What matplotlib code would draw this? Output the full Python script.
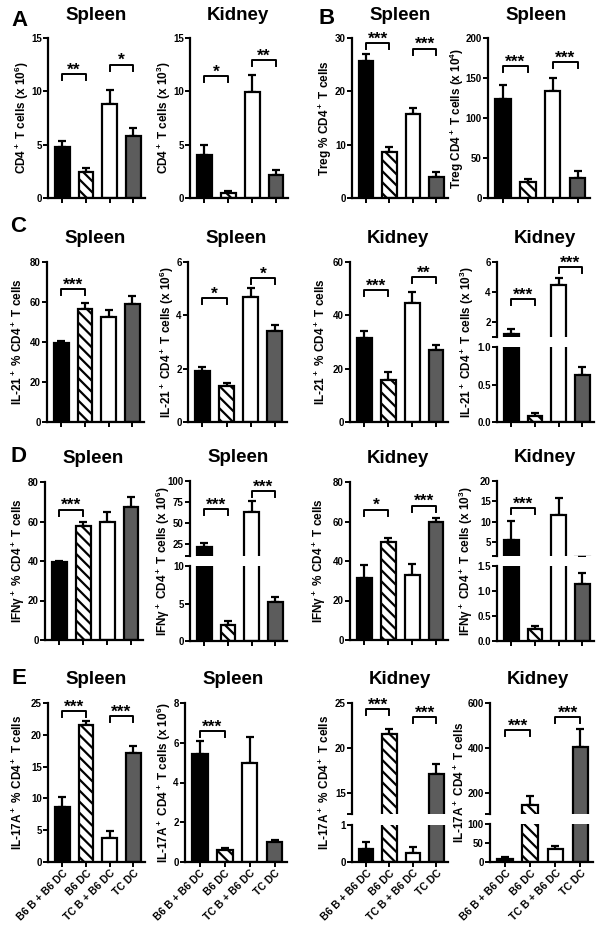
import numpy as np
import matplotlib.pyplot as plt

plt.rcParams['font.family'] = ['Liberation Sans', 'DejaVu Sans']
plt.rcParams['font.weight'] = 'bold'
plt.rcParams['mathtext.fontset'] = 'custom'
plt.rcParams['mathtext.rm'] = 'Liberation Sans:bold'
plt.rcParams['mathtext.bf'] = 'Liberation Sans:bold'
plt.rcParams['mathtext.default'] = 'bf'
plt.rcParams['hatch.linewidth'] = 1.6

W, H = 604, 934

groups = ['B6 B + B6 DC', 'B6 DC', 'TC B + B6 DC', 'TC DC']
face = ['black', 'white', 'white', '#5c5c5c']
hatch = [None, '\\\\\\', None, None]

# means and SEM
a1_mean = [4.8, 2.4, 8.8, 5.8];     a1_err = [0.55, 0.4, 1.3, 0.75]
a2_mean = [4.0, 0.45, 9.9, 2.2];    a2_err = [1.0, 0.2, 1.6, 0.4]
b1_mean = [25.7, 8.6, 15.8, 3.9];   b1_err = [1.3, 1.0, 1.1, 1.0]
b2_mean = [124, 20, 134, 25];       b2_err = [17, 4, 16, 9]
c1_mean = [39.5, 56.5, 52.5, 59];   c1_err = [1.2, 3.0, 3.5, 4.0]
c2_mean = [1.9, 1.35, 4.7, 3.42];   c2_err = [0.16, 0.11, 0.32, 0.22]
c3_mean = [31.5, 15.7, 44.6, 27.0]; c3_err = [2.5, 3.1, 4.1, 1.9]
c4_mean = [1.2, 0.08, 4.47, 0.63];  c4_err = [0.33, 0.04, 0.45, 0.1]
d1_mean = [39.3, 57.7, 59.7, 67.3]; d1_err = [0.8, 2.0, 5.1, 5.0]
d2_mean = [21, 2.2, 63, 5.2];       d2_err = [5, 0.45, 13, 0.65]
d3_mean = [31.4, 49.6, 33.0, 59.7]; d3_err = [6.6, 2.0, 5.5, 2.1]
d4_mean = [5.5, 0.24, 11.7, 1.15];  d4_err = [4.7, 0.06, 4.1, 0.22]
e1_mean = [8.7, 21.6, 3.7, 17.1];   e1_err = [1.5, 0.5, 1.1, 1.1]
e2_mean = [5.45, 0.58, 5.0, 1.0];   e2_err = [0.65, 0.12, 1.3, 0.1]
e3_mean = [0.35, 21.6, 0.25, 17.1]; e3_err = [0.18, 0.5, 0.15, 1.1]
e4_mean = [8, 145, 35, 405];        e4_err = [4, 40, 6, 80]

# significance: (stars, group i, group j, level)
a1_sig = [('**', 0, 1, 11.6), ('*', 2, 3, 12.5)]
a2_sig = [('*', 0, 1, 11.4), ('**', 2, 3, 12.9)]
b1_sig = [('***', 0, 1, 29.1), ('***', 2, 3, 28.0)]
b2_sig = [('***', 0, 1, 165), ('***', 2, 3, 170)]
c1_sig = [('***', 0, 1, 66.5)]
c2_sig = [('*', 0, 1, 4.65), ('*', 2, 3, 5.4)]
c3_sig = [('***', 0, 1, 49.5), ('**', 2, 3, 54.4)]
c4_sig = [('***', 0, 1, 3.53), ('***', 2, 3, 5.67)]
d1_sig = [('***', 0, 1, 66)]
d2_sig = [('***', 0, 1, 66), ('***', 2, 3, 88)]
d3_sig = [('*', 0, 1, 66), ('***', 2, 3, 68)]
d4_sig = [('***', 0, 1, 13.3)]
e1_sig = [('***', 0, 1, 23.7), ('***', 2, 3, 22.9)]
e2_sig = [('***', 0, 1, 6.6)]
e3_sig = [('***', 0, 1, 24.3), ('***', 2, 3, 23.4)]
e4_sig = [('***', 0, 1, 480), ('***', 2, 3, 538)]

lab_pct21 = 'IL-21$^+$ % CD4$^+$ T cells'
lab_ifn = 'IFN\u03b3$^+$ % CD4$^+$ T cells'
lab_17 = 'IL-17A$^+$ % CD4$^+$ T cells'

panels = [
    dict(left=48, top=38, width=97, height=160, mean=a1_mean, err=a1_err, ylim=(0, 15),
         ticks=[0, 5, 10, 15], sig=a1_sig, title='Spleen',
         ylabel='CD4$^+$ T cells (x 10$^6$)', lx=22),
    dict(left=190, top=38, width=98, height=160, mean=a2_mean, err=a2_err, ylim=(0, 15),
         ticks=[0, 5, 10, 15], sig=a2_sig, title='Kidney',
         ylabel='CD4$^+$ T cells (x 10$^3$)', lx=164),
    dict(left=352, top=38, width=96, height=160, mean=b1_mean, err=b1_err, ylim=(0, 30),
         ticks=[0, 10, 20, 30], sig=b1_sig, title='Spleen',
         ylabel='Treg % CD4$^+$ T cells', lx=325),
    dict(left=488, top=38, width=102, height=160, mean=b2_mean, err=b2_err, ylim=(0, 200),
         ticks=[0, 50, 100, 150, 200], sig=b2_sig, title='Spleen',
         ylabel='Treg CD4$^+$ T cells (x 10$^4$)', lx=457),
    dict(left=47, top=262, width=97, height=160, mean=c1_mean, err=c1_err, ylim=(0, 80),
         ticks=[0, 20, 40, 60, 80], sig=c1_sig, title='Spleen', ylabel=lab_pct21, lx=18),
    dict(left=188, top=262, width=99, height=160, mean=c2_mean, err=c2_err, ylim=(0, 6),
         ticks=[0, 2, 4, 6], sig=c2_sig, title='Spleen',
         ylabel='IL-21$^+$ CD4$^+$ T cells (x 10$^6$)', lx=167),
    dict(left=350, top=262, width=98, height=160, mean=c3_mean, err=c3_err, ylim=(0, 60),
         ticks=[0, 20, 40, 60], sig=c3_sig, title='Kidney', ylabel=lab_pct21, lx=321),
    dict(left=497, top=262, width=97, height=160, mean=c4_mean, err=c4_err, sig=c4_sig,
         title='Kidney', ylabel='IL-21$^+$ CD4$^+$ T cells (x 10$^3$)', lx=467,
         brk=dict(split=(337, 347), up_lim=(1, 6), up_ticks=[1, 2, 4, 6],
                  lo_lim=(0, 1), lo_ticks=[0, 0.5, 1.0])),
    dict(left=45, top=482, width=98, height=158, mean=d1_mean, err=d1_err, ylim=(0, 80),
         ticks=[0, 20, 40, 60, 80], sig=d1_sig, title='Spleen', ylabel=lab_ifn, lx=18),
    dict(left=190, top=481, width=97, height=160, mean=d2_mean, err=d2_err, sig=d2_sig,
         title='Spleen', ylabel='IFN\u03b3$^+$ CD4$^+$ T cells (x 10$^6$)', lx=163,
         brk=dict(split=(556, 566), up_lim=(10, 100), up_ticks=[10, 25, 50, 75, 100],
                  lo_lim=(0, 10), lo_ticks=[0, 5, 10])),
    dict(left=350, top=482, width=98, height=158, mean=d3_mean, err=d3_err, ylim=(0, 80),
         ticks=[0, 20, 40, 60, 80], sig=d3_sig, title='Kidney', ylabel=lab_ifn, lx=319),
    dict(left=497, top=481, width=97, height=160, mean=d4_mean, err=d4_err, sig=d4_sig,
         title='Kidney', ylabel='IFN\u03b3$^+$ CD4$^+$ T cells (x 10$^3$)', lx=466,
         brk=dict(split=(556, 566), up_lim=(1.5, 20), up_ticks=[1.5, 5, 10, 15, 20],
                  lo_lim=(0, 1.5), lo_ticks=[0, 0.5, 1.0, 1.5])),
    dict(left=48, top=703, width=97, height=159, mean=e1_mean, err=e1_err, ylim=(0, 25),
         ticks=[0, 5, 10, 15, 20, 25], sig=e1_sig, title='Spleen', ylabel=lab_17, lx=18),
    dict(left=185, top=703, width=102, height=159, mean=e2_mean, err=e2_err, ylim=(0, 8),
         ticks=[0, 2, 4, 6, 8], sig=e2_sig, title='Spleen',
         ylabel='IL-17A$^+$ CD4$^+$ T cells (x 10$^6$)', lx=164),
    dict(left=352, top=703, width=96, height=159, mean=e3_mean, err=e3_err, sig=e3_sig,
         title='Kidney', ylabel=lab_17, lx=325,
         brk=dict(split=(814, 825), up_lim=(12.67, 25), up_ticks=[12.67, 15, 20, 25],
                  lo_lim=(0, 1), lo_ticks=[0, 1])),
    dict(left=490, top=703, width=103, height=159, mean=e4_mean, err=e4_err, sig=e4_sig,
         title='Kidney', ylabel='IL-17A$^+$ CD4$^+$ T cells', lx=460,
         brk=dict(split=(814, 824), up_lim=(107, 600), up_ticks=[107, 200, 400, 600],
                  lo_lim=(0, 100), lo_ticks=[0, 50, 100])),
]

letters = [('A', 19, 21), ('B', 327, 18), ('C', 18, 227), ('D', 19, 457), ('E', 19, 679)]

fig = plt.figure(figsize=(W / 100, H / 100), dpi=100)


def add_ax(left, top, width, height):
    return fig.add_axes([left / W, 1 - (top + height) / H, width / W, height / H])


def style(ax, ylim, ticks, bottom=True, xlabels=False, labels=None):
    ax.set_xlim(-0.6, 3.5)
    ax.set_ylim(ylim)
    if labels is None:
        ax.set_yticks(ticks)
    else:
        ax.set_yticks(ticks, labels=labels)
    ax.spines[['top', 'right']].set_visible(False)
    ax.spines['left'].set_linewidth(1.6)
    ax.spines['bottom'].set_linewidth(1.6)
    ax.tick_params(axis='y', length=3.5, width=1.4, labelsize=7, pad=1)
    if bottom:
        ax.set_xticks(range(4))
        ax.tick_params(axis='x', length=3.5, width=1.4, pad=1)
        if xlabels:
            ax.set_xticklabels(groups, rotation=45, ha='right', rotation_mode='anchor',
                               fontsize=7.5)
        else:
            ax.set_xticklabels([])
    else:
        ax.spines['bottom'].set_visible(False)
        ax.set_xticks([])
    ax.patch.set_alpha(0)


def draw_bars(ax, mean, err):
    x = np.arange(len(mean))
    for i in range(len(mean)):
        ax.bar(x[i], mean[i], width=0.62, facecolor=face[i], edgecolor='black',
               linewidth=1.6, hatch=hatch[i], zorder=2)
    ax.errorbar(x, mean, yerr=[np.zeros(len(err)), err], fmt='none', ecolor='black',
                elinewidth=1.6, capsize=3, capthick=1.6, zorder=1)


def bracket(ax, sig, hpx):
    lo, hi = ax.get_ylim()
    h = 6 * (hi - lo) / hpx
    for stars, i, j, y in sig:
        ax.plot([i, i, j, j], [y - h, y, y, y - h], color='black', lw=1.4,
                clip_on=False, zorder=3)
        ax.annotate(stars, xy=((i + j) / 2, y), xytext=(0, -2.5), textcoords='offset points',
                    ha='center', va='bottom', fontsize=12.5, annotation_clip=False)


for n, p in enumerate(panels):
    last_row = n >= 12
    if 'brk' in p:
        b = p['brk']
        ax_up = add_ax(p['left'], p['top'], p['width'], b['split'][0] - p['top'])
        bottom = p['top'] + p['height']
        ax_lo = add_ax(p['left'], b['split'][1], p['width'], bottom - b['split'][1])
        draw_bars(ax_up, p['mean'], p['err'])
        draw_bars(ax_lo, p['mean'], p['err'])
        up_labels = [''] + ['%g' % t for t in b['up_ticks'][1:]]
        style(ax_up, b['up_lim'], b['up_ticks'], bottom=False, labels=up_labels)
        style(ax_lo, b['lo_lim'], b['lo_ticks'], xlabels=last_row)
        bracket(ax_up, p['sig'], b['split'][0] - p['top'])
    else:
        ax = add_ax(p['left'], p['top'], p['width'], p['height'])
        draw_bars(ax, p['mean'], p['err'])
        style(ax, p['ylim'], p['ticks'], xlabels=last_row)
        bracket(ax, p['sig'], p['height'])
    cx = p['left'] + 48
    fig.text(cx / W, 1 - (p['top'] - 23) / H, p['title'], fontsize=13.5,
             ha='center', va='center')
    yc = p['top'] + p['height'] / 2
    fig.text(p['lx'] / W, 1 - yc / H, p['ylabel'], rotation=90, fontsize=8.5,
             ha='center', va='center')

for letter, x, y in letters:
    fig.text(x / W, 1 - y / H, letter, fontsize=16, ha='center', va='center')

fig.savefig('out.png', dpi=100)
